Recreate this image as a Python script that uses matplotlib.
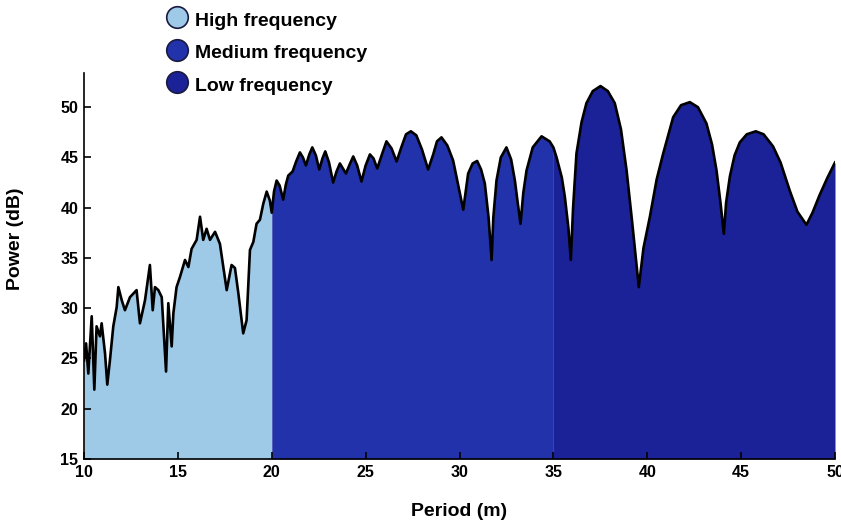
import matplotlib
matplotlib.use("Agg")
import matplotlib.pyplot as plt
from matplotlib.lines import Line2D
import numpy as np

plt.rcParams['font.family'] = ['Liberation Sans', 'DejaVu Sans']

# ---- data ----
high_x = [10.00, 10.11, 10.23, 10.41, 10.55, 10.67, 10.85, 10.94, 11.12, 11.24,
          11.38, 11.56, 11.74, 11.83, 12.01, 12.18, 12.45, 12.80, 12.98, 13.25,
          13.51, 13.66, 13.78, 13.96, 14.14, 14.37, 14.49, 14.67, 14.76, 14.93,
          15.11, 15.38, 15.56, 15.73, 16.00, 16.18, 16.35, 16.53, 16.71, 16.98,
          17.24, 17.60, 17.86, 18.04, 18.22, 18.48, 18.66, 18.84, 19.02, 19.19,
          19.37, 19.55, 19.73, 19.90, 20.00]
high_y = [24.8, 26.5, 23.5, 29.2, 21.9, 28.2, 27.2, 28.5, 25.5, 22.4,
          24.8, 28.2, 30.1, 32.1, 30.8, 29.8, 31.1, 31.8, 28.5, 30.8,
          34.3, 29.8, 32.1, 31.8, 31.1, 23.7, 30.5, 26.2, 29.5, 32.1,
          33.1, 34.8, 34.1, 35.9, 36.8, 39.1, 36.8, 37.9, 36.8, 37.6,
          36.4, 31.8, 34.3, 34.0, 31.5, 27.5, 28.8, 35.8, 36.6, 38.4,
          38.8, 40.4, 41.6, 40.7, 39.5]

med_x = [20.00, 20.12, 20.26, 20.42, 20.61, 20.75, 20.88, 21.11, 21.30, 21.50,
         21.66, 21.82, 22.00, 22.16, 22.35, 22.53, 22.70, 22.85, 23.05, 23.27,
         23.45, 23.63, 23.95, 24.15, 24.34, 24.55, 24.78, 25.00, 25.23, 25.42,
         25.62, 25.85, 26.11, 26.38, 26.65, 26.90, 27.15, 27.41, 27.70, 28.00,
         28.33, 28.60, 28.80, 29.04, 29.35, 29.66, 29.90, 30.20, 30.46, 30.70,
         30.94, 31.15, 31.35, 31.55, 31.71, 31.80, 31.97, 32.20, 32.50, 32.75,
         32.95, 33.10, 33.25, 33.40, 33.57, 33.90, 34.37, 34.80, 35.00]
med_y = [39.5, 41.6, 42.7, 42.2, 40.8, 42.3, 43.2, 43.6, 44.6, 45.5,
         45.0, 44.2, 45.3, 46.0, 45.2, 43.8, 44.9, 45.6, 44.5, 42.5,
         43.6, 44.4, 43.4, 44.3, 45.1, 44.2, 42.6, 44.2, 45.3, 44.9,
         43.9, 45.2, 46.6, 45.9, 44.6, 46.0, 47.3, 47.6, 47.2, 45.8,
         43.8, 45.3, 46.6, 47.0, 46.2, 44.7, 42.5, 39.8, 43.4, 44.4,
         44.65, 43.8, 42.4, 39.0, 34.8, 39.0, 42.7, 45.0, 46.0, 44.8,
         42.7, 40.5, 38.4, 41.5, 43.7, 46.0, 47.1, 46.6, 46.0]

low_x = [35.00, 35.17, 35.45, 35.61, 35.80, 35.93, 36.05, 36.23, 36.50, 36.76,
         37.10, 37.51, 37.90, 38.27, 38.60, 38.90, 39.20, 39.55, 39.80, 40.14,
         40.50, 40.85, 41.38, 41.80, 42.27, 42.70, 43.15, 43.45, 43.69, 43.90,
         44.08, 44.20, 44.40, 44.65, 44.93, 45.30, 45.78, 46.20, 46.70, 47.10,
         47.59, 48.00, 48.48, 48.80, 49.19, 49.60, 50.00]
low_y = [46.0, 45.0, 43.0, 41.1, 38.0, 34.8, 40.0, 45.4, 48.5, 50.4,
         51.6, 52.1, 51.6, 50.4, 47.8, 43.7, 38.5, 32.1, 36.0, 39.1,
         42.8, 45.4, 49.0, 50.2, 50.5, 50.0, 48.4, 46.3, 43.7, 40.5,
         37.4, 40.5, 43.1, 45.2, 46.5, 47.3, 47.6, 47.3, 46.1, 44.5,
         41.7, 39.6, 38.3, 39.5, 41.3, 43.0, 44.5]

labels = ['High frequency', 'Medium frequency', 'Low frequency']
colors = ['#9ecae8', '#2132aa', '#1b2297']

x_ticks = [10, 15, 20, 25, 30, 35, 40, 45, 50]
y_ticks = [15, 20, 25, 30, 35, 40, 45, 50]

# ---- figure ----
W, H = 841, 521
fig = plt.figure(figsize=(W / 100, H / 100), dpi=100)
ax = fig.add_axes([84 / W, 1 - 459 / H, (835 - 84) / W, (459 - 73) / H])

ymin = 15
for xs, ys, c in zip([high_x, med_x, low_x], [high_y, med_y, low_y], colors):
    ax.fill_between(xs, ymin, ys, color=c, linewidth=0)

all_x = high_x + med_x[1:] + low_x[1:]
all_y = high_y + med_y[1:] + low_y[1:]
ax.plot(all_x, all_y, color='black', lw=1.9, solid_joinstyle='round')

ax.set_xlim(10, 50)
ax.set_ylim(15, 53.4)
ax.set_xticks(x_ticks)
ax.set_yticks(y_ticks)
tick_font = {'family': ['Liberation Sans', 'DejaVu Sans'],
             'weight': 'bold', 'size': 11.5}
ax.tick_params(direction='in', length=5, width=1.2, pad=4)
ax.set_xticklabels([str(t) for t in x_ticks], fontdict=tick_font)
ax.set_yticklabels([str(t) for t in y_ticks], fontdict=tick_font)
for s in ['top', 'right']:
    ax.spines[s].set_visible(False)
for s in ['left', 'bottom']:
    ax.spines[s].set_linewidth(1.2)

ax.set_xlabel('Period (m)', fontsize=14, fontweight='bold')
ax.set_ylabel('Power (dB)', fontsize=14, fontweight='bold')
ax.xaxis.set_label_coords(0.5, -0.115)
ax.yaxis.set_label_coords(-0.08, 0.57)

handles = [Line2D([], [], linestyle='none', marker='o', markersize=15.5,
                  markerfacecolor=c, markeredgecolor='#1a1a40', markeredgewidth=1.2)
           for c in colors]
fig.legend(handles, labels, loc='upper left', bbox_to_anchor=(165 / W, 1 - 9 / H),
           frameon=False, borderpad=0, borderaxespad=0, handlelength=1.2,
           handleheight=1.2, handletextpad=0.35, labelspacing=0.62,
           prop={'size': 14, 'weight': 'bold'})

fig.savefig('out.png', dpi=100)
